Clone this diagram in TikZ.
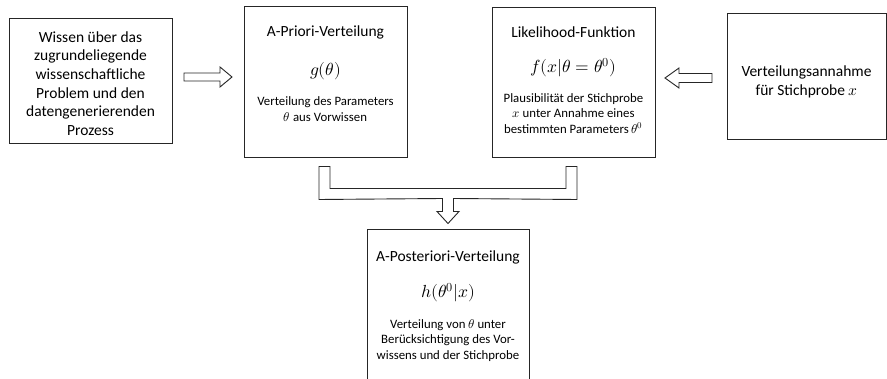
\documentclass[tikz,border=0pt]{standalone}
\usepackage{amsmath}
\usepackage{fontspec}
\usepackage{unicode-math}
\setmainfont{Carlito}
\setmathfont{Latin Modern Math}
\usetikzlibrary{calc}

\tikzset{
  box/.style={draw=black!85, line width=1pt, minimum width=163pt, inner sep=0pt},
  head/.style={font=\fontsize{15.5}{18.7}\selectfont, align=center, inner sep=0pt},
  formula/.style={font=\fontsize{17.5}{20}\selectfont, inner sep=0pt},
  note/.style={font=\fontsize{12.8}{15.5}\selectfont, align=center, inner sep=0pt},
  blockarrow/.style={draw=black!85, line width=0.9pt, line join=miter, fill=white}
}

\begin{document}
\begin{tikzpicture}[x=1pt, y=-1pt]
  \useasboundingbox (0,0) rectangle (887,379);
  \clip (0,0) rectangle (887,379);

  % Boxes
  \node[box, minimum height=125pt] (wissen) at (90.5,81.5) {};
  \node[box, minimum height=151pt] (prior) at (325.5,82.5) {};
  \node[box, minimum height=150pt] (lik) at (573.5,83) {};
  \node[box, minimum width=159pt, minimum height=126pt] (annahme) at (806.5,77) {};
  \node[box, minimum width=162pt, minimum height=160pt] (post) at (448,310) {};

  % Texts in the boxes
  \node[head] (wissenT) at ($(wissen.center)+(0,2)$)
    {Wissen über das\\zugrundeliegende\\wissenschaftliche\\Problem und den\\datengenerierenden\\Prozess};

  \node[head] (priorT) at ($(prior.north)+(0,26)$) {A-Priori-Verteilung};
  \node[formula] (priorF) at ($(prior.north)+(0,65)$) {$g(\theta)$};
  \node[note] (priorN) at ($(prior.north)+(0,102.5)$)
    {Verteilung des Parameters\\$\theta$ aus Vorwissen};

  \node[head] (likT) at ($(lik.north)+(0,25)$) {Likelihood-Funktion};
  \node[formula] (likF) at ($(lik.north)+(0,60)$) {$f(x|\theta=\theta^0)$};
  \node[note] (likN) at ($(lik.north)+(0,106)$)
    {Plausibilität der Stichprobe\\$x$ unter Annahme eines\\bestimmten Parameters $\theta^0$};

  \node[head] (annahmeT) at ($(annahme.center)+(0,5)$)
    {Verteilungsannahme\\für Stichprobe $x$};

  \node[head] (postT) at ($(post.north)+(0,28)$) {A-Posteriori-Verteilung};
  \node[formula] (postF) at ($(post.north)+(0,63)$) {$h(\theta^0|x)$};
  \node[note] (postN) at ($(post.north)+(0,111)$)
    {Verteilung von $\theta$ unter\\Berücksichtigung des Vor-\\wissens und der Stichprobe};

  % Block arrows between the upper boxes
  \coordinate (a1) at ($($(wissen.east)!0.5!(prior.west)$)+(0,-5)$);
  \draw[blockarrow] ($(a1)+(-24,-4)$) -- ++(36,0) -- ++(0,-6) -- ++(12,10)
    -- ++(-12,10) -- ++(0,-6) -- ++(-36,0) -- cycle;

  \coordinate (a2) at ($($(lik.east)!0.5!(annahme.west)$)+(-2.5,-2)$);
  \draw[blockarrow] ($(a2)+(23.5,-4.5)$) -- ++(-33,0) -- ++(0,-5.5) -- ++(-14,10)
    -- ++(14,10) -- ++(0,-5.5) -- ++(33,0) -- cycle;

  % Merging arrow into the posterior
  \coordinate (L) at ($(prior.south)+(-1,8)$);
  \coordinate (R) at ($(lik.south)+(-2,8)$);
  \coordinate (T) at ($(post.north)+(0,-6)$);
  \draw[blockarrow] ($(L)+(-5.5,0)$) -- ($(L)+(5.5,0)$) -- ($(L)+(5.5,22)$)
    -- ($(R)+(-5.5,22)$) -- ($(R)+(-5.5,0)$) -- ($(R)+(5.5,0)$) -- ($(R)+(5.5,33)$)
    -- ($(T)+(5.5,-25)$) -- ($(T)+(5.5,-12)$) -- ($(T)+(11,-12)$) -- (T)
    -- ($(T)+(-11,-12)$) -- ($(T)+(-5.5,-12)$) -- ($(T)+(-5.5,-25)$)
    -- ($(L)+(-5.5,33)$) -- cycle;
\end{tikzpicture}
\end{document}
